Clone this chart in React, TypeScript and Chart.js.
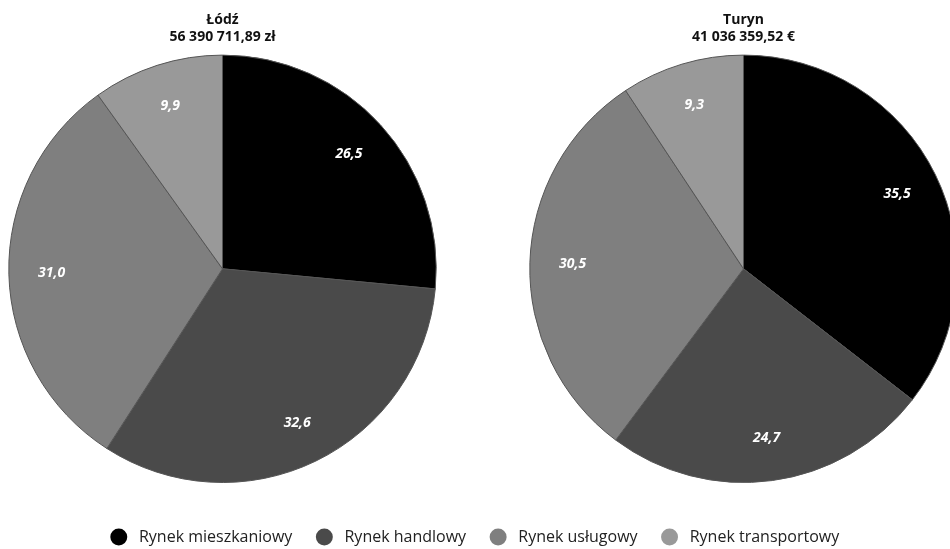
import React, { useEffect, useRef } from 'react';
import { Chart, registerables } from 'chart.js';

Chart.register(...registerables);

const categories = ['Rynek mieszkaniowy', 'Rynek handlowy', 'Rynek usługowy', 'Rynek transportowy'];
const lodzValues = [26.5, 32.6, 31.0, 9.9];
const turynValues = [35.5, 24.7, 30.5, 9.3];
const lodzTitle = ['Łódź', '56 390 711,89 zł'];
const turynTitle = ['Turyn', '41 036 359,52 €'];
const sliceColors = ['#000000', '#4a4a4a', '#7f7f7f', '#999999'];

const FONT = "'Open Sans', sans-serif";

const valueLabels = {
  id: 'valueLabels',
  afterDatasetsDraw(chart: any) {
    const ctx = chart.ctx;
    const meta = chart.getDatasetMeta(0);
    const data = chart.data.datasets[0].data as number[];
    ctx.save();
    ctx.font = `italic bold 14px ${FONT}`;
    ctx.fillStyle = '#ffffff';
    ctx.textAlign = 'center';
    ctx.textBaseline = 'middle';
    meta.data.forEach((arc: any, i: number) => {
      const mid = (arc.startAngle + arc.endAngle) / 2;
      const r = arc.outerRadius * 0.8;
      const x = arc.x + Math.cos(mid) * r;
      const y = arc.y + Math.sin(mid) * r;
      ctx.fillText(data[i].toFixed(1).replace('.', ','), x, y);
    });
    ctx.restore();
  },
};

function PieChart({ title, values, left }: { title: string[]; values: number[]; left: number }) {
  const ref = useRef<HTMLCanvasElement>(null);
  useEffect(() => {
    if (!ref.current) return;
    const chart = new Chart(ref.current, {
      type: 'pie',
      data: {
        labels: categories,
        datasets: [
          {
            data: values,
            backgroundColor: sliceColors,
            borderColor: '#555555',
            borderWidth: 1,
          },
        ],
      },
      options: {
        animation: false,
        responsive: false,
        maintainAspectRatio: false,
        layout: { padding: 0 },
        plugins: {
          legend: { display: false },
          tooltip: { enabled: false },
          title: {
            display: true,
            text: title,
            color: '#111111',
            font: { family: FONT, size: 14, weight: 'bold', lineHeight: 1.2 },
            padding: { top: 12, bottom: 9 },
          },
        },
      },
      plugins: [valueLabels],
    });
    return () => chart.destroy();
  }, []);
  return (
    <canvas
      ref={ref}
      width={445}
      height={483}
      style={{ position: 'absolute', left, top: 0, width: 445, height: 483 }}
    />
  );
}

function LegendChart() {
  const ref = useRef<HTMLCanvasElement>(null);
  useEffect(() => {
    if (!ref.current) return;
    const chart = new Chart(ref.current, {
      type: 'pie',
      data: {
        labels: categories,
        datasets: [{ data: [1, 1, 1, 1], backgroundColor: sliceColors, borderWidth: 0 }],
      },
      options: {
        animation: false,
        responsive: false,
        maintainAspectRatio: false,
        plugins: {
          tooltip: { enabled: false },
          legend: {
            display: true,
            position: 'top',
            onClick: () => {},
            labels: {
              usePointStyle: true,
              pointStyle: 'circle',
              boxWidth: 16,
              boxHeight: 12,
              padding: 24,
              color: '#222222',
              font: { family: FONT, size: 16 },
              generateLabels: (chart: any) => {
                const items = Chart.overrides.pie.plugins.legend.labels.generateLabels(chart);
                return items.map((it: any) => ({ ...it, text: ' ' + it.text }));
              },
            },
          },
        },
      },
      plugins: [{ id: 'hideArcs', beforeDatasetsDraw: () => false }],
    });
    return () => chart.destroy();
  }, []);
  return (
    <canvas
      ref={ref}
      width={950}
      height={100}
      style={{ position: 'absolute', left: 0, top: 505, width: 950, height: 100 }}
    />
  );
}

export default function App() {
  return (
    <div
      style={{
        position: 'fixed',
        left: 0,
        top: 0,
        width: 950,
        height: 549,
        overflow: 'hidden',
        background: '#ffffff',
      }}
    >
      <PieChart title={lodzTitle} values={lodzValues} left={0} />
      <PieChart title={turynTitle} values={turynValues} left={521} />
      <LegendChart />
    </div>
  );
}
